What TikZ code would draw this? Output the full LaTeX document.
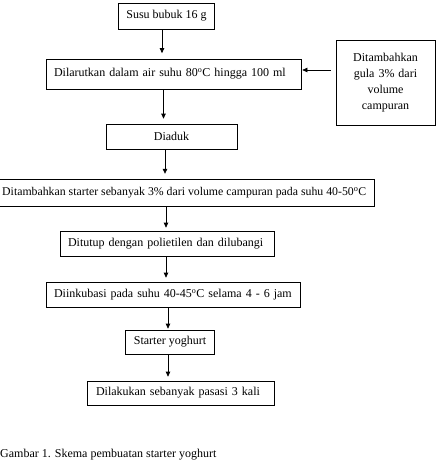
\documentclass[tikz,border=0pt]{standalone}
\usepackage{fontspec}
\setmainfont{Liberation Serif}
\usetikzlibrary{arrows.meta}
\begin{document}
\begin{tikzpicture}[x=1pt,y=-1pt,
  every node/.style={font=\fontsize{12}{16}\selectfont},
  boxline/.style={draw, line width=0.7pt},
  box/.style={boxline, inner xsep=8pt, inner ysep=0pt},
  lbox/.style={box, align=left},
  cbox/.style={box, align=center},
  arr/.style={line width=0.7pt, -{Triangle[length=5pt,width=4.5pt]}, shorten >=3.5pt}]
\useasboundingbox (0,0) rectangle (437,469);
\node[cbox, minimum width=95pt, minimum height=26pt] (susu) at (166.5,16) {Susu bubuk 16 g};
\node[lbox, text width=239pt, minimum height=30pt] (dil) at (173.5,74) {Dilarutkan dalam air suhu 80\textsuperscript{o}C hingga 100 ml};
\node[cbox, text width=85pt, minimum width=99pt, minimum height=85pt, inner xsep=7pt] (gula) at (385.5,82.5) {Ditambahkan\\gula 3\% dari\\volume\\campuran};
\node[cbox, minimum width=131pt, minimum height=25pt] (aduk) at (171.5,136.5) {Diaduk};
\node[font=\fontsize{11.8}{16}\selectfont, inner xsep=0pt, inner ysep=0pt, minimum height=26pt, anchor=west] (start) at (2,193) {Ditambahkan starter sebanyak 3\% dari volume campuran pada suhu 40-50\textsuperscript{o}C};
\draw[boxline] ([xshift=-10pt]start.north west) rectangle ([xshift=7.5pt]start.south east);
\node[lbox, text width=198pt, minimum height=25pt] (tutup) at (167,243.5) {Ditutup dengan polietilen dan dilubangi};
\node[lbox, text width=238pt, minimum height=25pt] (inkub) at (173,294.5) {Diinkubasi pada suhu 40-45\textsuperscript{o}C selama 4 - 6 jam};
\node[cbox, minimum width=88pt, minimum height=24pt] (yog) at (170,342) {Starter yoghurt};
\node[lbox, inner xsep=9pt, text width=169pt, minimum height=24pt] (lak) at (180.5,393) {Dilakukan sebanyak pasasi 3 kali};
\node[anchor=base west, inner sep=0pt] (cap) at (0,457) {Gambar 1. Skema pembuatan starter yoghurt};
\coordinate (xa) at (162,0);
\coordinate (xb) at (163.5,0);
\coordinate (xc) at (165,0);
\coordinate (xd) at (166,0);
\coordinate (xe) at (168,0);
\draw[arr, shorten >=5.5pt] (susu.south -| xa) -- (dil.north -| xa);
\draw[arr, shorten >=5pt] (dil.south -| xb) -- (aduk.north -| xb);
\draw[arr, shorten >=6pt] (aduk.south -| xc) -- (start.north -| xc);
\draw[arr, shorten >=3pt] (start.south -| xd) -- (tutup.north -| xd);
\draw[arr, shorten >=4pt] (tutup.south -| xd) -- (inkub.north -| xd);
\draw[arr, shorten >=1pt] (inkub.south -| xe) -- (yog.north -| xe);
\draw[arr, shorten >=4pt] (yog.south -| xe) -- (lak.north -| xe);
\coordinate (hs) at ([yshift=12.5pt]gula.west);
\draw[arr, shorten <=5pt, shorten >=1pt] (hs) -- (dil.east |- hs);
\end{tikzpicture}
\end{document}
